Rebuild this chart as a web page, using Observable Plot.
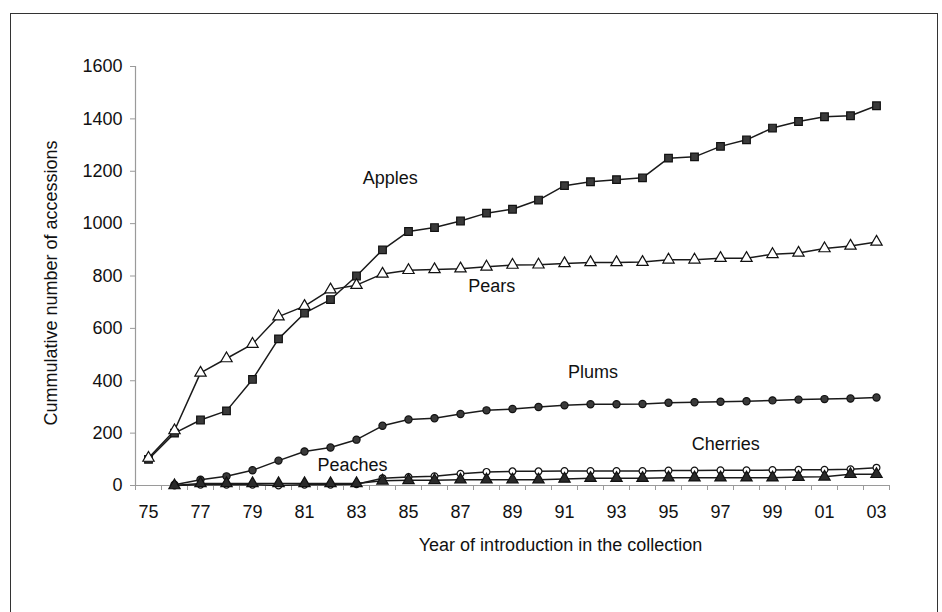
<!DOCTYPE html>
<html>
<head>
<meta charset="utf-8">
<script src="https://cdn.jsdelivr.net/npm/d3@7"></script>
<script src="https://cdn.jsdelivr.net/npm/@observablehq/plot@0.6"></script>
<style>
  html, body { margin: 0; padding: 0; background: #fff; }
  #wrap { position: relative; width: 942px; height: 612px; overflow: hidden; }
  #frame { position: absolute; left: 10px; top: 13px; width: 928px; height: 640px; border: 1.5px solid #333; box-sizing: border-box; }
  #chart { position: absolute; left: 0; top: 0; }
</style>
</head>
<body>
<div id="wrap"><div id="frame"></div><div id="chart"></div></div>
<script>
const years = [1975,1976,1977,1978,1979,1980,1981,1982,1983,1984,1985,1986,1987,1988,1989,1990,1991,1992,1993,1994,1995,1996,1997,1998,1999,2000,2001,2002,2003];
const apples = [100,200,250,285,405,560,658,710,800,900,970,985,1010,1040,1055,1090,1145,1160,1168,1175,1250,1255,1295,1320,1365,1390,1408,1412,1450];
const pears = [105,210,430,485,540,645,685,748,765,808,822,825,828,835,842,843,848,852,852,853,862,862,868,868,883,888,905,915,930];
const plums = [null,3,22,35,58,95,130,145,175,228,252,257,273,287,292,300,306,310,310,311,316,318,320,322,325,328,330,332,336];
const cherries = [null,0,3,3,3,0,3,3,5,28,32,35,45,52,54,54,55,55,55,55,57,57,58,58,59,60,60,62,68];
const peaches = [null,0,8,8,8,8,8,8,8,18,20,20,22,22,22,22,25,28,28,28,30,30,30,30,30,32,33,43,43];

const tickYears = [1975,1977,1979,1981,1983,1985,1987,1989,1991,1993,1995,1997,1999,2001,2003];
const yTicks = [0,200,400,600,800,1000,1200,1400,1600];

const labelText = ["Apples","Pears","Plums","Cherries","Peaches"];
const labelYear = [1984.3,1988.2,1992.1,1997.2,1982.85];
const labelValue = [1172,760,433,157,79];

const xTitle = "Year of introduction in the collection";
const yTitle = "Cummulative number of accessions";

const seriesDefs = [
  {name: "Apples", values: apples, symbol: "square", fill: "#3a3a3a", r: 4.3},
  {name: "Pears", values: pears, symbol: "triangle", fill: "#fff", r: 4.2},
  {name: "Plums", values: plums, symbol: "circle", fill: "#3a3a3a", r: 3.6},
  {name: "Cherries", values: cherries, symbol: "circle", fill: "#fff", r: 3.4},
  {name: "Peaches", values: peaches, symbol: "triangle", fill: "#2a2a2a", r: 4.2}
];

const marks = [
  Plot.ruleY([0], {stroke: "#9a9a9a", strokeWidth: 1.2}),
  Plot.ruleX([1974.5], {stroke: "#9a9a9a", strokeWidth: 1.2}),
  Plot.axisX({ticks: d3.range(1974.5, 2004, 1), tickFormat: () => "", tickSize: 5, stroke: "#9a9a9a", label: null}),
  Plot.axisX({ticks: tickYears, tickSize: 0, tickPadding: 20, tickFormat: d => String(d % 100).padStart(2, "0"), label: null, fill: "#111"}),
  Plot.axisY({ticks: yTicks, tickSize: 5, tickPadding: 8, stroke: "#9a9a9a", label: null, tickFormat: d => String(d), fill: "#111"}),
  Plot.text([xTitle], {frameAnchor: "bottom", dx: 48, dy: 60, lineAnchor: "middle", fill: "#111"}),
  Plot.text([yTitle], {frameAnchor: "left", rotate: -90, dx: -84, dy: 7, textAnchor: "middle", lineAnchor: "middle", fill: "#111"})
];

for (const s of seriesDefs) {
  const rows = years.map((y, i) => ({year: y, value: s.values[i]})).filter(d => d.value != null);
  marks.push(Plot.line(rows, {x: "year", y: "value", stroke: "#1a1a1a", strokeWidth: 1.5}));
}
for (const s of seriesDefs) {
  const rows = years.map((y, i) => ({year: y, value: s.values[i]})).filter(d => d.value != null);
  marks.push(Plot.dot(rows, {x: "year", y: "value", symbol: () => s.symbol, r: s.r, fill: s.fill, stroke: "#111", strokeWidth: 1.2}));
}
const labels = labelText.map((t, i) => ({t, x: labelYear[i], y: labelValue[i]}));
marks.push(Plot.text(labels, {x: "x", y: "y", text: "t", fill: "#111", lineAnchor: "middle"}));

const chart = Plot.plot({
  width: 942,
  height: 612,
  marginLeft: 135,
  marginRight: 53,
  marginTop: 66,
  marginBottom: 127,
  style: {fontFamily: "'Liberation Sans', Arial, sans-serif", fontSize: "18px", background: "transparent", color: "#111"},
  x: {type: "linear", domain: [1974.5, 2003.5], axis: null},
  y: {domain: [0, 1600], axis: null},
  symbol: {type: "identity"},
  marks
});
document.getElementById("chart").appendChild(chart);
</script>
</body>
</html>
